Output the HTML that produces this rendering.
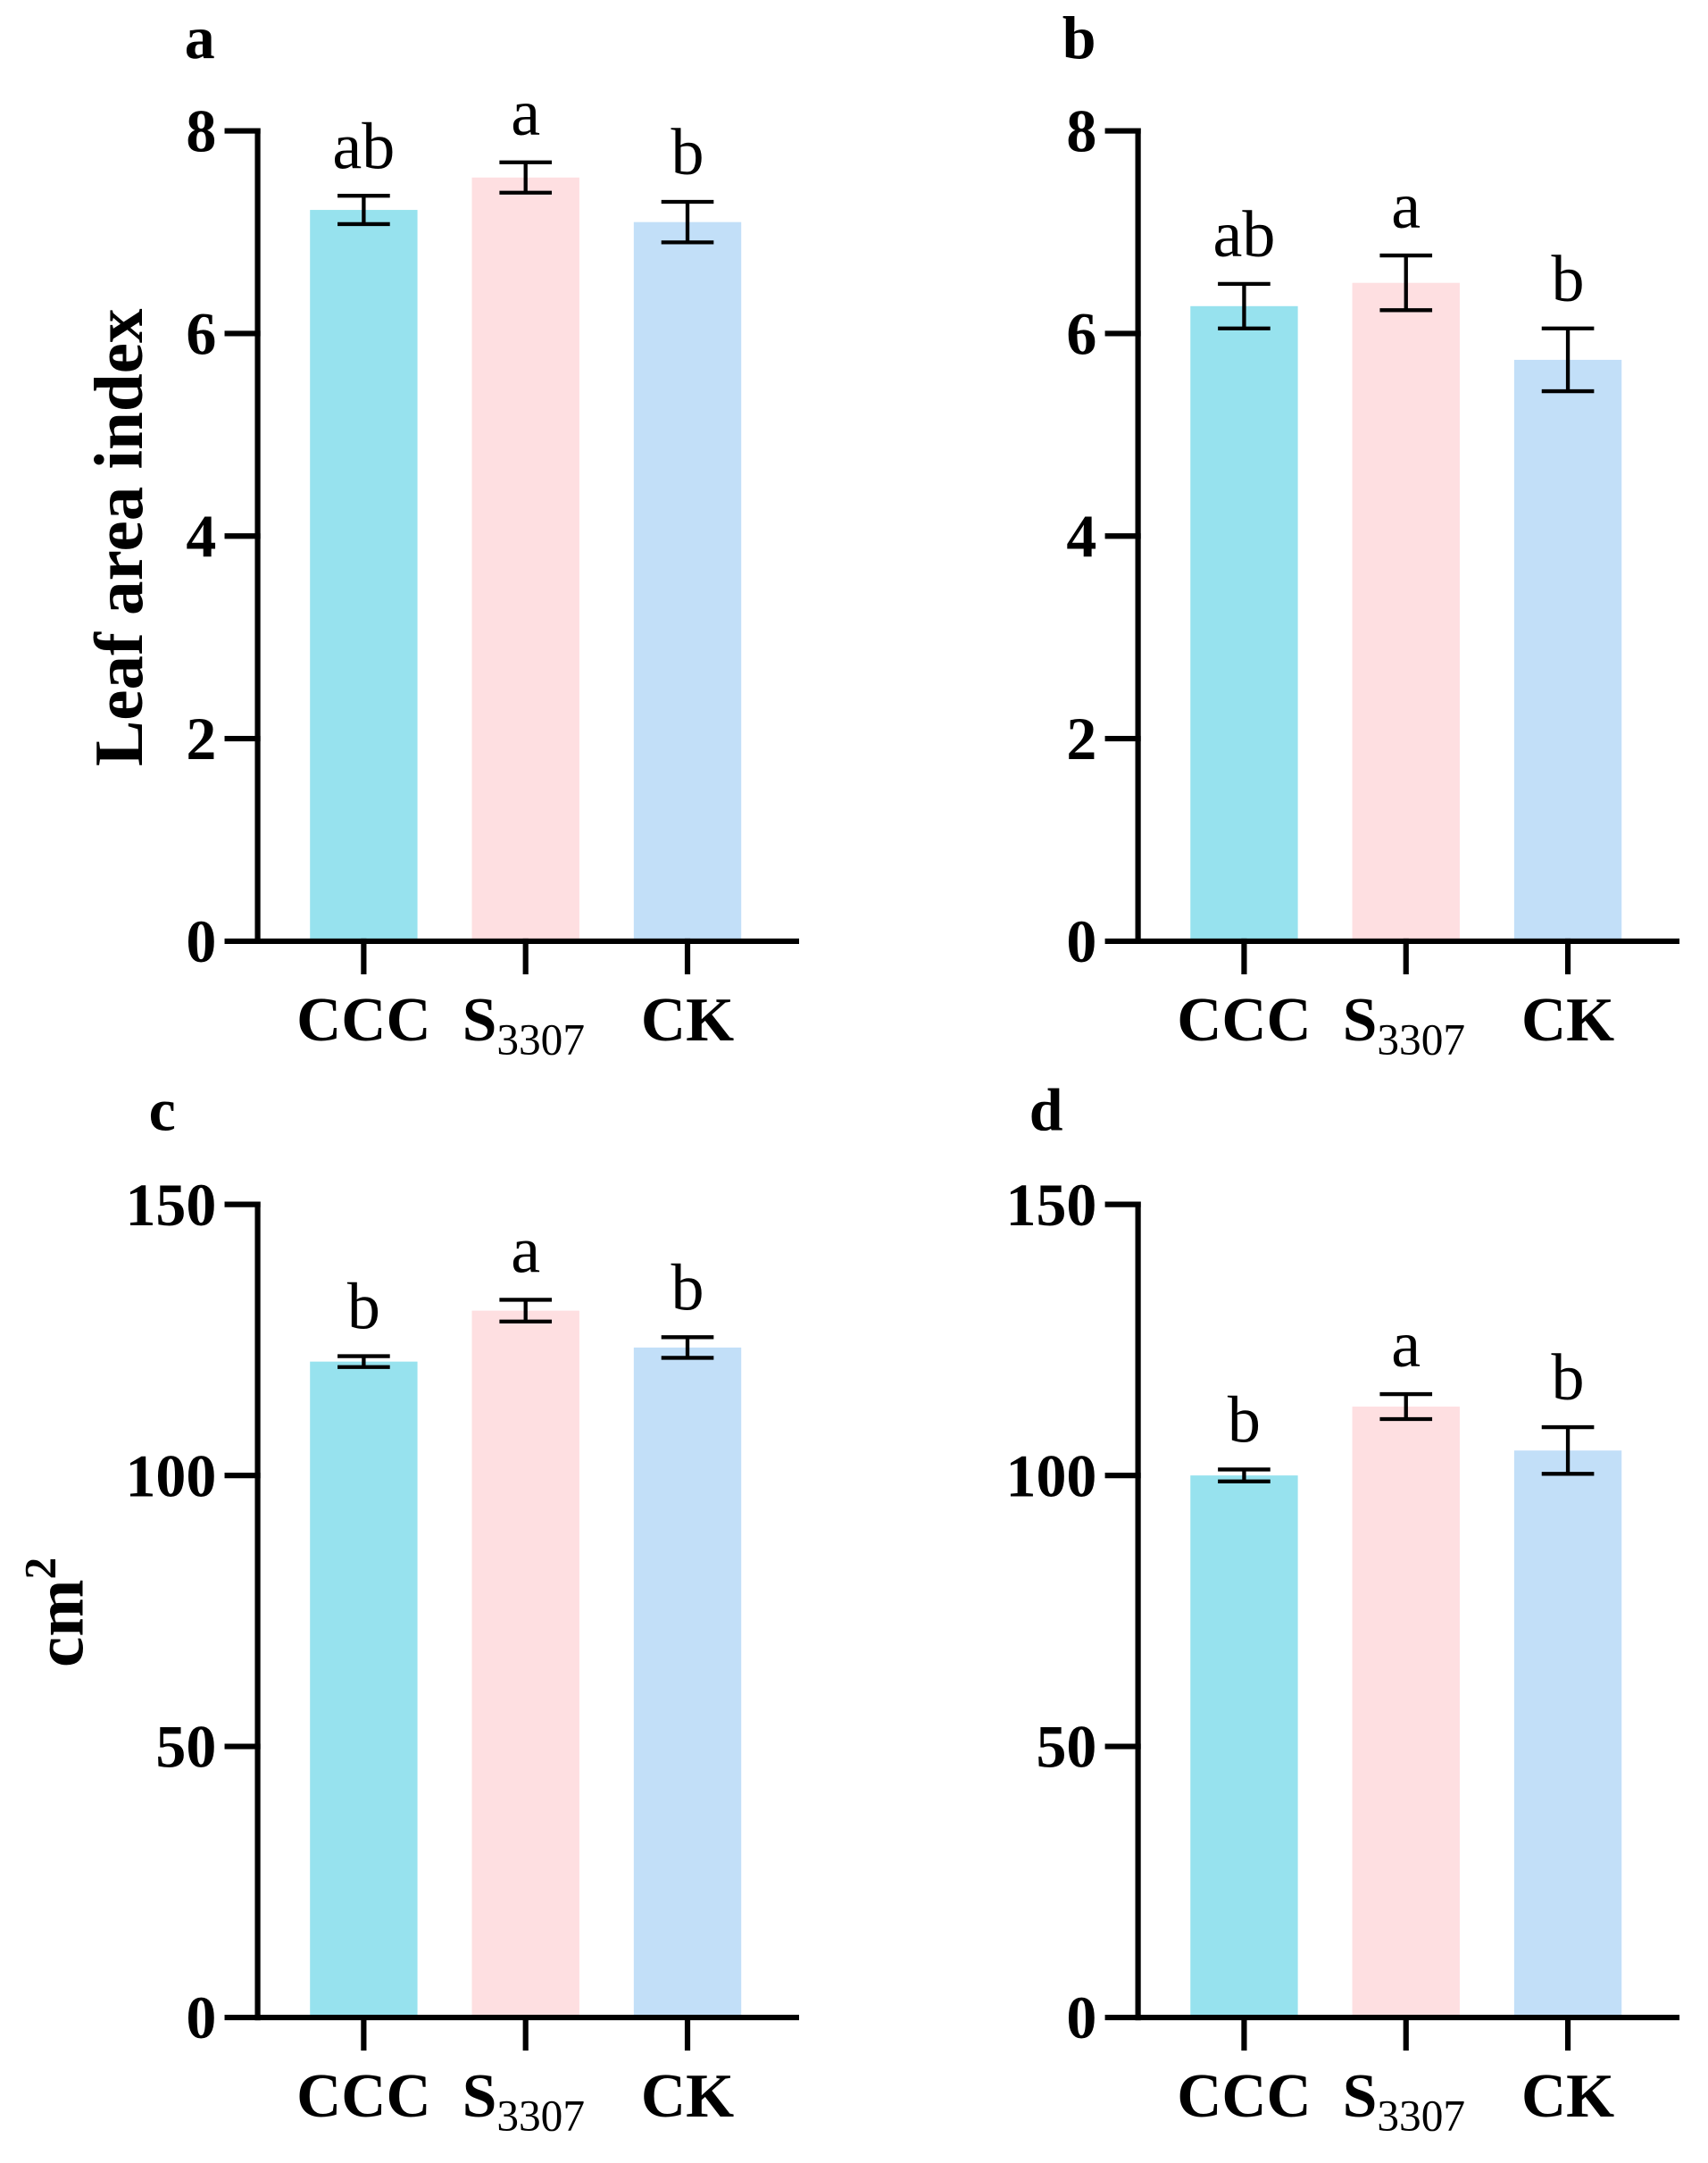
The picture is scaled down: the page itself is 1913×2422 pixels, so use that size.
<!DOCTYPE html>
<html><head><meta charset="utf-8"><style>
html,body{margin:0;padding:0;background:#fff}
svg{display:block}
text{font-family:"Liberation Serif",serif;fill:#000}
</style></head><body>
<svg id="fig" width="1913" height="2422" viewBox="0 0 1239.7 1569.6" preserveAspectRatio="none" xmlns="http://www.w3.org/2000/svg"></svg>
<script>
const categories = ["CCC", "S3307", "CK"];
const colors = ["#97E2EE", "#FEDFE1", "#C2DFF8"];
const valuesA = [7.22, 7.54, 7.10];
const errorsA = [0.14, 0.15, 0.20];
const lettersA = ["ab", "a", "b"];
const valuesB = [6.27, 6.50, 5.74];
const errorsB = [0.22, 0.27, 0.31];
const lettersB = ["ab", "a", "b"];
const valuesC = [121.0, 130.4, 123.6];
const errorsC = [1.0, 2.0, 1.9];
const lettersC = ["b", "a", "b"];
const valuesD = [100.0, 112.7, 104.6];
const errorsD = [1.1, 2.3, 4.3];
const lettersD = ["b", "a", "b"];
const ticksTop = [0, 2, 4, 6, 8];
const ticksBottom = [0, 50, 100, 150];

const NS = "http://www.w3.org/2000/svg";
const svg = document.getElementById("fig");
function mk(tag, attrs, parent) {
  const e = document.createElementNS(NS, tag);
  for (const k in attrs) e.setAttribute(k, attrs[k]);
  (parent || svg).appendChild(e);
  return e;
}

function panel(cfg) {
  const g = mk("g", {});
  
  
  const ax = cfg.ax, y0 = cfg.y0, yTop = cfg.yTop, xEnd = ax + 391;
  const yMax = cfg.ticks[cfg.ticks.length - 1];
  const ys = v => y0 - (v / yMax) * (y0 - yTop);
  const barW = 78, step = 117.5, firstC = ax + 77;
  const xc = i => firstC + i * step;
  cfg.values.forEach((v, i) => {
    const r = mk("rect", {x: xc(i) - barW/2, y: ys(v), width: barW, height: y0 - ys(v), fill: colors[i]}, g);
    
    
    const e = cfg.errors[i];
    const eg = mk("g", {stroke: "#000", "stroke-width": 2.8, fill: "none"}, g);
    
    
    mk("line", {x1: xc(i), x2: xc(i), y1: ys(v + e), y2: ys(v - e)}, eg);
    mk("line", {x1: xc(i) - 19, x2: xc(i) + 19, y1: ys(v + e), y2: ys(v + e)}, eg);
    mk("line", {x1: xc(i) - 19, x2: xc(i) + 19, y1: ys(v - e), y2: ys(v - e)}, eg);
    const t = mk("text", {x: xc(i), y: ys(v + e) - 20, "text-anchor": "middle", "font-size": 48}, g);
    t.textContent = cfg.letters[i];
    
    
  });
  const axg = mk("g", {stroke: "#000", "stroke-width": 4, fill: "none", "stroke-linecap": "square"}, g);
  
  
  mk("line", {x1: ax, x2: ax, y1: yTop, y2: y0}, axg);
  mk("line", {x1: ax, x2: xEnd, y1: y0, y2: y0}, axg);
  cfg.ticks.forEach(tv => {
    mk("line", {x1: ax - 22, x2: ax, y1: ys(tv), y2: ys(tv)}, axg);
    const t = mk("text", {x: ax - 30, y: ys(tv) + 15, "text-anchor": "end", "font-size": 44, "font-weight": "bold"}, g);
    t.textContent = tv;
    
    
  });
  categories.forEach((c, i) => {
    mk("line", {x1: xc(i), x2: xc(i), y1: y0, y2: y0 + 22}, axg);
    const t = mk("text", {x: xc(i), y: y0 + 72, "text-anchor": "middle", "font-size": 45, "font-weight": "bold"}, g);
    
    
    if (c === "S3307") {
      t.textContent = "S";
      t.setAttribute("text-anchor", "start");
      t.setAttribute("x", xc(i) - 46);
      const s = mk("tspan", {"font-size": 32, "font-weight": "normal", dy: 10}, t);
      s.textContent = "3307";
    } else t.textContent = c;
  });
  const pl = mk("text", {x: cfg.lx, y: cfg.ly, "font-size": 44, "font-weight": "bold"}, g);
  pl.textContent = cfg.label;
  
  
}

panel({label: "a", ax: 187, y0: 683, yTop: 95, ticks: ticksTop, values: valuesA, errors: errorsA, letters: lettersA, lx: 134, ly: 42});
panel({label: "b", ax: 826, y0: 683, yTop: 95, ticks: ticksTop, values: valuesB, errors: errorsB, letters: lettersB, lx: 771, ly: 42});
panel({label: "c", ax: 187, y0: 1464, yTop: 874, ticks: ticksBottom, values: valuesC, errors: errorsC, letters: lettersC, lx: 108, ly: 820});
panel({label: "d", ax: 826, y0: 1464, yTop: 874, ticks: ticksBottom, values: valuesD, errors: errorsD, letters: lettersD, lx: 747, ly: 820});

const yt1 = mk("text", {x: 0, y: 0, transform: "translate(103,390) rotate(-90)", "text-anchor": "middle", "font-size": 50, "font-weight": "bold"});
yt1.textContent = "Leaf area index";


const yt2 = mk("text", {x: 0, y: 0, transform: "translate(60,1170) rotate(-90)", "text-anchor": "middle", "font-size": 50, "font-weight": "bold"});
yt2.textContent = "cm";
const sup = mk("tspan", {"font-size": 32, dy: -20}, yt2);
sup.textContent = "2";


</script>
</body></html>
